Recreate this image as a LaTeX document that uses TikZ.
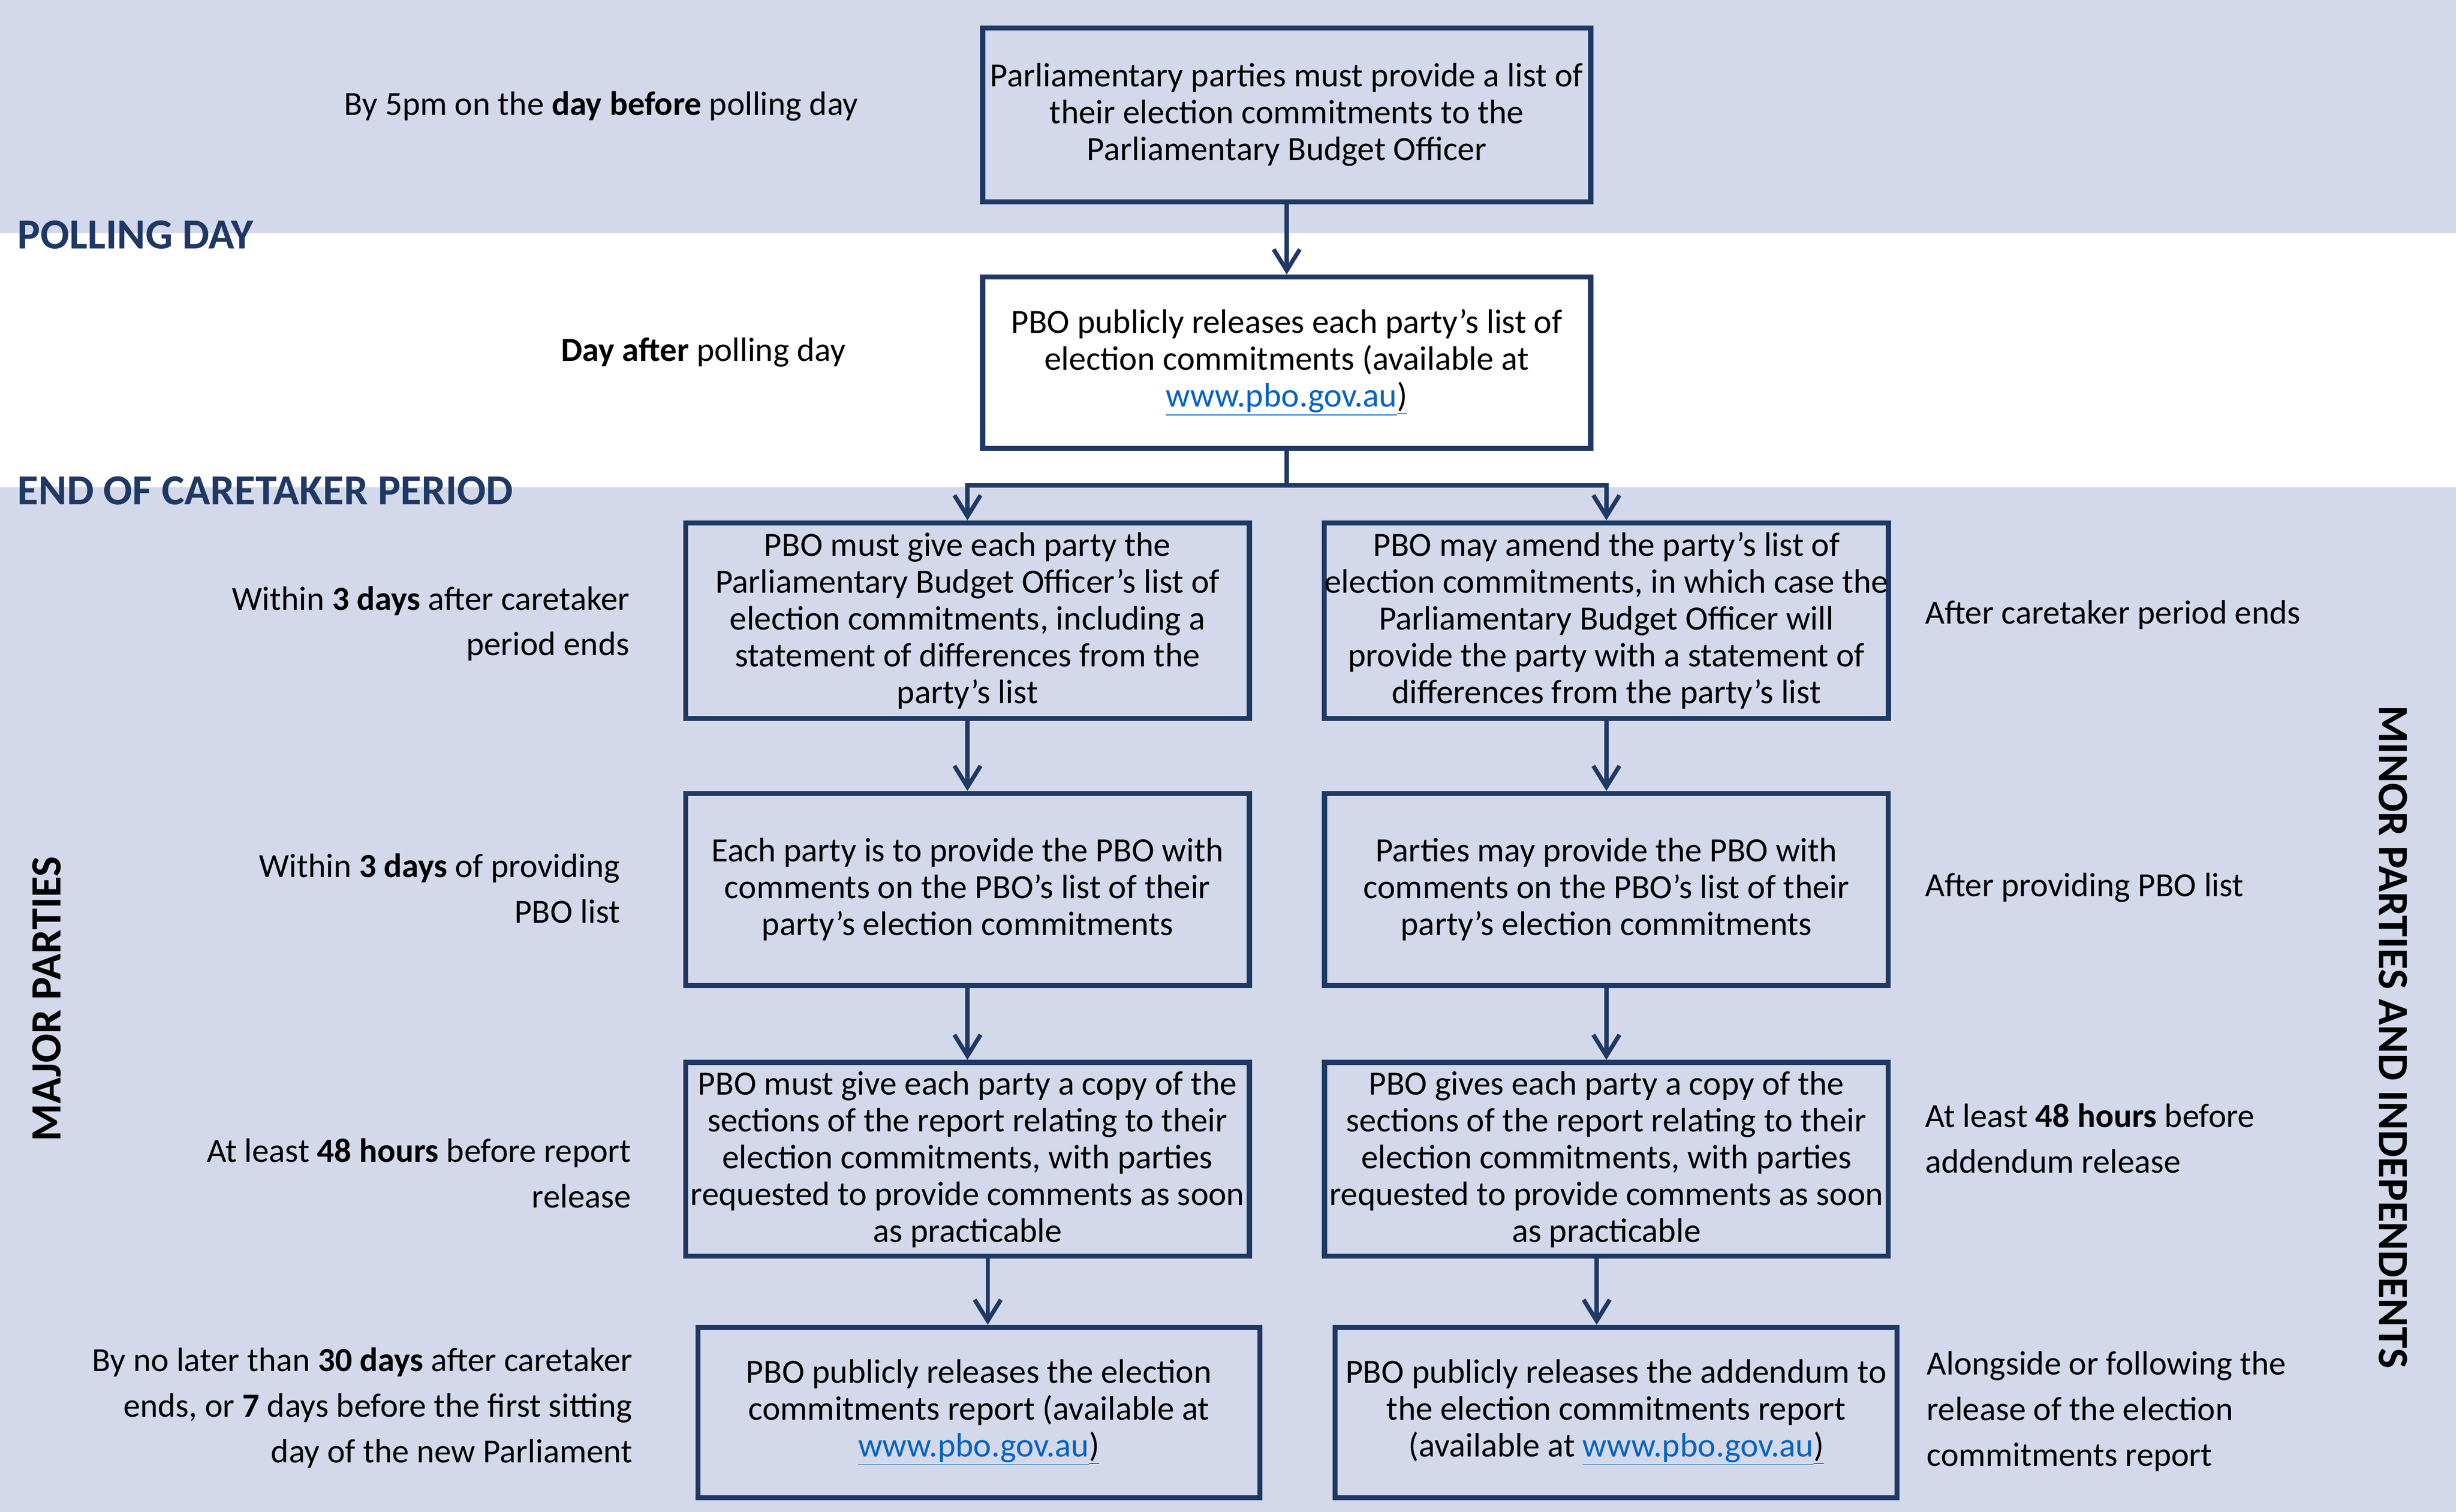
\documentclass[tikz,border=0pt]{standalone}
\usepackage{fontspec}
\setmainfont{Carlito}
\usetikzlibrary{arrows.meta}
\definecolor{band}{HTML}{D3D9EA}
\definecolor{navy}{HTML}{1F3864}
\definecolor{weblink}{HTML}{0563C1}
\newcommand{\pbolink}{\textcolor{weblink}{\underline{www.pbo.gov.au}}\underline{)}}

\begin{document}
\begin{tikzpicture}[
        stepbox/.style={draw=navy, line width=3.4pt, align=center, inner sep=0pt, font=\fontsize{22.9}{24.8}\selectfont},
        sidelabel/.style={inner sep=0pt, font=\fontsize{22.8}{30.7}\selectfont},
        heading/.style={inner sep=0pt, text=navy, font=\fontsize{28.9}{32}\selectfont\bfseries},
        sidehead/.style={inner sep=0pt, font=\fontsize{29}{32}\selectfont\bfseries},
        conn/.style={draw=navy, line width=2.85pt},
        arrow/.style={conn, -{Straight Barb[length=0.5cm, width=0.62cm]}}
    ]
        \useasboundingbox (0, 0) rectangle (58.16, -35.81);
        \fill[band] (0, 0) rectangle (58.16, -5.53);
        \fill[band] (0, -11.54) rectangle (58.16, -35.81);

        \node [heading, anchor=west] (polling) at (0.41, -5.56) {POLLING DAY};
        \node [heading, anchor=west] (endcare) at (0.41, -11.62) {END OF CARETAKER PERIOD};
        \node [sidehead, rotate=90] (major) at (1.11, -23.66) {MAJOR PARTIES};
        \node [sidehead, rotate=-90] (minor) at (56.67, -24.56) {MINOR PARTIES AND INDEPENDENTS};

        \node [stepbox, minimum width=14.40cm, minimum height=4.12cm] (plist) at (30.47, -2.72) {Parliamentary parties must provide a list of\\their election commitments to the\\Parliamentary Budget Officer};
        \node [stepbox, fill=white, minimum width=14.40cm, minimum height=4.06cm] (release) at (30.47, -8.59) {PBO publicly releases each party’s list of\\election commitments (available at\\\pbolink};

        \node [stepbox, minimum width=13.35cm, minimum height=4.63cm] (mp1) at (22.91, -14.70) {PBO must give each party the\\Parliamentary Budget Officer’s list of\\election commitments, including a\\statement of differences from the\\party’s list};
        \node [stepbox, minimum width=13.35cm, minimum height=4.63cm] (mi1) at (38.04, -14.70) {PBO may amend the party’s list of\\election commitments, in which case the\\Parliamentary Budget Officer will\\provide the party with a statement of\\differences from the party’s list};
        \node [stepbox, minimum width=13.35cm, minimum height=4.55cm] (mp2) at (22.91, -21.07) {Each party is to provide the PBO with\\comments on the PBO’s list of their\\party’s election commitments};
        \node [stepbox, minimum width=13.35cm, minimum height=4.55cm] (mi2) at (38.04, -21.07) {Parties may provide the PBO with\\comments on the PBO’s list of their\\party’s election commitments};
        \node [stepbox, minimum width=13.35cm, minimum height=4.59cm] (mp3) at (22.91, -27.46) {PBO must give each party a copy of the\\sections of the report relating to their\\election commitments, with parties\\requested to provide comments as soon\\as practicable};
        \node [stepbox, minimum width=13.35cm, minimum height=4.59cm] (mi3) at (38.04, -27.46) {PBO gives each party a copy of the\\sections of the report relating to their\\election commitments, with parties\\requested to provide comments as soon\\as practicable};
        \node [stepbox, minimum width=13.31cm, minimum height=4.04cm] (mp4) at (23.18, -33.46) {PBO publicly releases the election\\commitments report (available at\\\pbolink};
        \node [stepbox, minimum width=13.31cm, minimum height=4.04cm] (mi4) at (38.27, -33.46) {PBO publicly releases the addendum to\\the election commitments report\\(available at \pbolink};

        \node [sidelabel, anchor=east, align=right] (when0) at (20.33, -2.52) {By 5pm on the \textbf{day before} polling day};
        \node [sidelabel, anchor=east, align=right] (when1) at (20.03, -8.34) {\textbf{Day after} polling day};
        \node [sidelabel, anchor=east, align=right] (when2) at (14.91, -14.77) {Within \textbf{3 days} after caretaker\\period ends};
        \node [sidelabel, anchor=east, align=right] (when3) at (14.69, -21.04) {Within \textbf{3 days} of providing\\PBO list};
        \node [sidelabel, anchor=east, align=right] (when4) at (14.95, -27.79) {At least \textbf{48 hours} before report\\release};
        \node [sidelabel, anchor=east, align=right] (when5) at (14.98, -33.35) {By no later than \textbf{30 days} after caretaker\\ends, or \textbf{7} days before the first sitting\\day of the new Parliament};

        \node [sidelabel, anchor=west, align=left] (after1) at (45.58, -14.57) {After caretaker period ends};
        \node [sidelabel, anchor=west, align=left] (after2) at (45.58, -21.03) {After providing PBO list};
        \node [sidelabel, anchor=west, align=left] (after3) at (45.58, -26.96) {At least \textbf{48 hours} before\\addendum release};
        \node [sidelabel, anchor=west, align=left] (after4) at (45.62, -33.43) {Alongside or following the\\release of the election\\commitments report};

        \coordinate (split) at (30.47, -11.50);
        \draw [arrow] (plist.south) -- (release.north);
        \draw [arrow] (release.south) -- (split) -| (mp1.north);
        \draw [arrow] (split) -| (mi1.north);
        \draw [arrow] (mp1.south) -- (mp2.north);
        \draw [arrow] (mi1.south) -- (mi2.north);
        \draw [arrow] (mp2.south) -- (mp3.north);
        \draw [arrow] (mi2.south) -- (mi3.north);
        \draw [arrow] ([xshift=0.48cm]mp3.south) -- ([xshift=0.48cm]mp3.south |- mp4.north);
        \draw [arrow] ([xshift=-0.23cm]mi3.south) -- ([xshift=-0.23cm]mi3.south |- mi4.north);
    \end{tikzpicture}
\end{document}
